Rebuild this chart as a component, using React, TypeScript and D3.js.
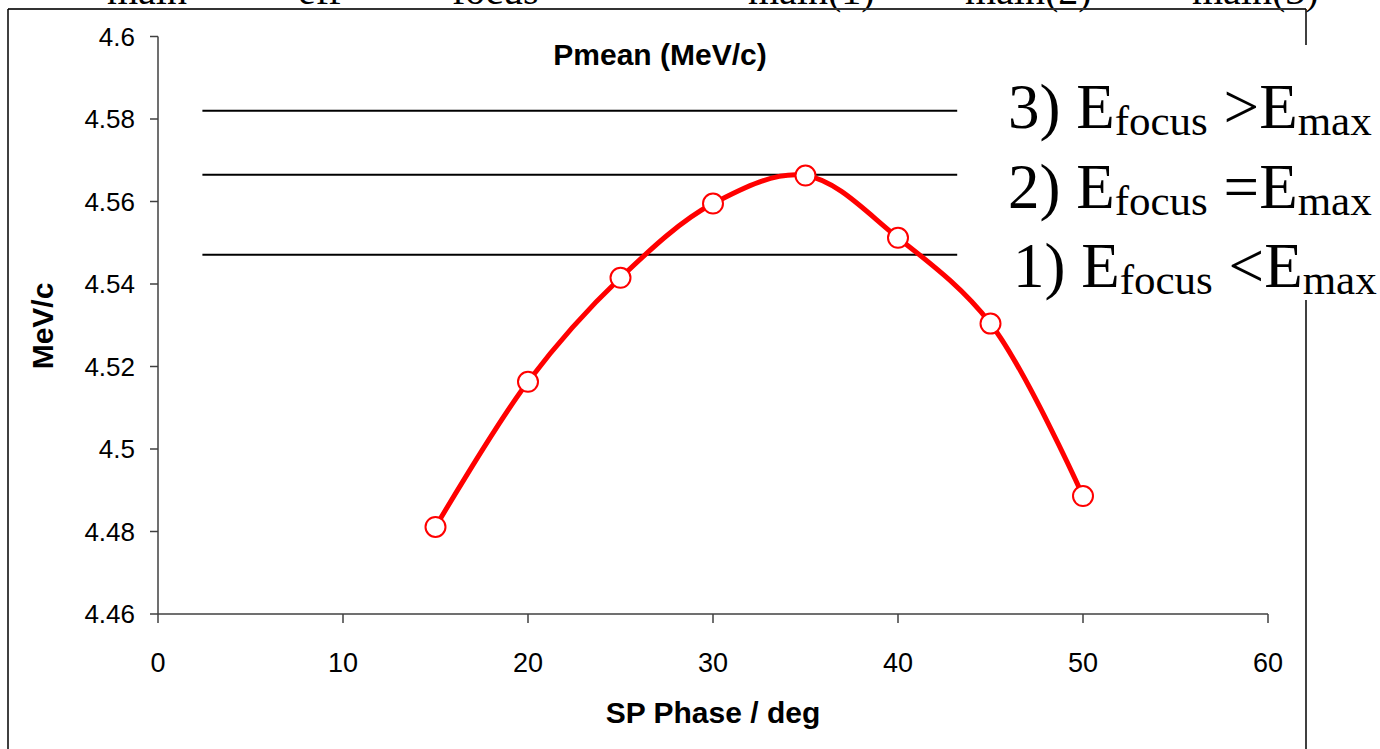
import React from "react";
import * as d3 from "d3";

const phases = [15, 20, 25, 30, 35, 40, 45, 50];
const pmean = [4.4811, 4.5163, 4.5415, 4.5595, 4.5663, 4.5512, 4.5304, 4.4886];
const refLevels = [4.582, 4.5665, 4.5471];
const refRange = [2.4, 43.2];
const xTicks = [0, 10, 20, 30, 40, 50, 60];
const yTicks = [4.46, 4.48, 4.5, 4.52, 4.54, 4.56, 4.58, 4.6];
const legendLines = [
  { num: "3)", op: ">" },
  { num: "2)", op: "=" },
  { num: "1)", op: "<" },
];
const topWords = ["main", "eff", "focus", "main(1)", "main(2)", "main(3)"];
const topX = [107, 298, 452, 748, 965, 1192];

export default function App() {
  const W = 1380, H = 749;
  const x = d3.scaleLinear().domain([0, 60]).range([158, 1268]);
  const y = d3.scaleLinear().domain([4.46, 4.6]).range([614, 36.5]);
  const line = d3
    .line<number>()
    .x((_, i) => x(phases[i]))
    .y((d) => y(d))
    .curve(d3.curveCatmullRom.alpha(0.5));
  const sans = "'Liberation Sans', Arial, sans-serif";
  const serif = "'Liberation Serif', 'Times New Roman', serif";
  const axisColor = "#404040";
  return (
    <svg width={W} height={H} style={{ position: "absolute", left: 0, top: 0, background: "#fff" }}>
      <rect x={0} y={0} width={W} height={H} fill="#fff" />
      {/* clipped text at the very top */}
      {topWords.map((w, i) => (
        <text key={w} x={topX[i]} y={4} fontFamily={serif} fontSize={40} fill="#000">
          {w}
        </text>
      ))}
      {/* outer frame */}
      <line x1={8} x2={1306} y1={9} y2={9} stroke="#333" strokeWidth={2} />
      <line x1={8} x2={8} y1={9} y2={H} stroke="#000" strokeWidth={1.5} />
      <line x1={1306} x2={1306} y1={9} y2={H} stroke="#000" strokeWidth={1.5} />

      {/* title */}
      <text x={660} y={65} textAnchor="middle" fontFamily={sans} fontWeight="bold" fontSize={30}>
        Pmean (MeV/c)
      </text>

      {/* axes */}
      <line x1={x(0)} x2={x(0)} y1={y(4.6)} y2={y(4.46)} stroke={axisColor} strokeWidth={1.5} />
      <line x1={x(0)} x2={x(60)} y1={y(4.46)} y2={y(4.46)} stroke={axisColor} strokeWidth={1.5} />
      {yTicks.map((t) => (
        <g key={t}>
          <line x1={x(0) - 8} x2={x(0)} y1={y(t)} y2={y(t)} stroke={axisColor} strokeWidth={1.5} />
          <text x={135} y={y(t) + 9} textAnchor="end" fontFamily={sans} fontSize={26}>
            {d3.format("")(t)}
          </text>
        </g>
      ))}
      {xTicks.map((t) => (
        <g key={t}>
          <line x1={x(t)} x2={x(t)} y1={y(4.46)} y2={y(4.46) + 9} stroke={axisColor} strokeWidth={1.5} />
          <text x={x(t)} y={672} textAnchor="middle" fontFamily={sans} fontSize={27}>
            {t}
          </text>
        </g>
      ))}
      <text x={713} y={723} textAnchor="middle" fontFamily={sans} fontWeight="bold" fontSize={30}>
        SP Phase / deg
      </text>
      <text
        transform={`translate(53,326) rotate(-90)`}
        textAnchor="middle"
        fontFamily={sans}
        fontWeight="bold"
        fontSize={30}
      >
        MeV/c
      </text>

      {/* reference lines */}
      {refLevels.map((v) => (
        <line key={v} x1={x(refRange[0])} x2={x(refRange[1])} y1={y(v)} y2={y(v)} stroke="#000" strokeWidth={2} />
      ))}

      {/* data curve */}
      <path d={line(pmean) || ""} fill="none" stroke="#ff0000" strokeWidth={5} strokeLinejoin="round" />
      {pmean.map((v, i) => (
        <circle key={i} cx={x(phases[i])} cy={y(v)} r={10} fill="#fff" stroke="#ff0000" strokeWidth={2} />
      ))}

      {/* legend block */}
      <rect x={1000} y={45} width={380} height={255} fill="#fff" />
      {legendLines.map((l, i) => (
        <text key={l.num} x={i === 2 ? 1013 : 1008} y={128 + i * 79.5} fontFamily={serif} fontSize={63} fill="#000">
          <tspan>{l.num} E</tspan>
          <tspan fontSize={43} dy={7}>focus</tspan>
          <tspan dy={-7}> {l.op}E</tspan>
          <tspan fontSize={43} dy={7}>max</tspan>
        </text>
      ))}
    </svg>
  );
}
